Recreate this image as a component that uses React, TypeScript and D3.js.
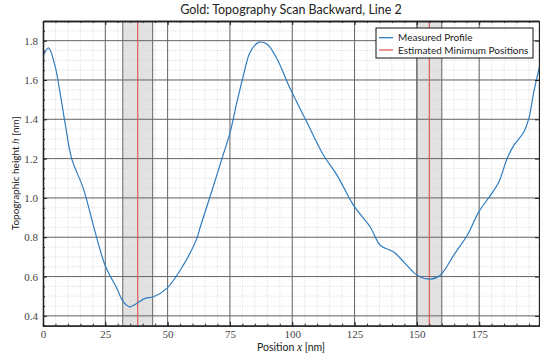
import { useEffect, useRef } from "react";
import * as d3 from "d3";

const width = 540;
const height = 358;
const plot = { left: 43, right: 539, top: 21, bottom: 325.7 };

// measured profile
const positions = [
  0, 2.2, 4.8, 6.8, 8.8, 11.5, 16.2, 20.9, 24.9, 29.6, 32.2, 34.7, 37.6, 41.0,
  44.3, 49.7, 56.3, 61.7, 63.1, 67.1, 71.8, 75.1, 77.8, 80.4, 83.1, 86.5, 89.8,
  93.9, 99.2, 105.9, 112.6, 118.0, 124.6, 131.3, 135.3, 140.7, 144.7, 150.1,
  155.4, 159.4, 164.8, 170.2, 174.8, 179.5, 182.9, 186.2, 188.9, 192.9, 194.9,
  196.9, 199.6,
];
const heights = [
  1.72, 1.763, 1.673, 1.538, 1.385, 1.2, 1.047, 0.827, 0.658, 0.54, 0.472,
  0.446, 0.463, 0.489, 0.497, 0.54, 0.658, 0.793, 0.852, 1.01, 1.2, 1.335,
  1.487, 1.622, 1.741, 1.791, 1.783, 1.707, 1.555, 1.385, 1.216, 1.115, 0.962,
  0.852, 0.759, 0.725, 0.675, 0.607, 0.587, 0.607, 0.709, 0.81, 0.928, 1.013,
  1.081, 1.2, 1.267, 1.335, 1.403, 1.538, 1.69,
];

const minPositions = [38, 155];
const minBands = [
  [32, 44],
  [150, 160],
];

const xTicks = [0, 25, 50, 75, 100, 125, 150, 175];
const yTicks = [0.4, 0.6, 0.8, 1.0, 1.2, 1.4, 1.6, 1.8];

const legendItems = ["Measured Profile", "Estimated Minimum Positions"];
const legendColors = ["#2f7dbf", "#df5a5a"];

const sans = "Lato, 'Open Sans', sans-serif";
const serif = "'Liberation Serif', 'DejaVu Serif', serif";

document.body.style.margin = "0";

export default function App() {
  const svgRef = useRef<SVGSVGElement | null>(null);

  useEffect(() => {
    if (!svgRef.current) return;
    const svg = d3.select(svgRef.current);

    const x = d3.scaleLinear().domain([0, 199]).range([plot.left, plot.right]);
    const y = d3.scaleLinear().domain([0.35, 1.9]).range([plot.bottom, plot.top]);

    const xMinor = d3.range(0, 200, 5);
    const yMinor = d3.range(0.35, 1.9001, 0.05);

    // bands
    svg
      .select(".bands")
      .selectAll("rect")
      .data(minBands)
      .join("rect")
      .attr("x", (d) => x(d[0]))
      .attr("width", (d) => x(d[1]) - x(d[0]))
      .attr("y", plot.top)
      .attr("height", plot.bottom - plot.top)
      .attr("fill", "#e2e2e2");

    // minor grid
    const minor = svg.select(".minor-grid");
    minor
      .selectAll("line.mx")
      .data(xMinor)
      .join("line")
      .attr("class", "mx")
      .attr("x1", (d) => x(d))
      .attr("x2", (d) => x(d))
      .attr("y1", plot.top)
      .attr("y2", plot.bottom);
    minor
      .selectAll("line.my")
      .data(yMinor)
      .join("line")
      .attr("class", "my")
      .attr("x1", plot.left)
      .attr("x2", plot.right)
      .attr("y1", (d) => y(d))
      .attr("y2", (d) => y(d));
    minor
      .selectAll("line")
      .attr("stroke", "#d4d4d4")
      .attr("stroke-width", 0.7)
      .attr("stroke-dasharray", "1.2 1.2");

    // major grid
    const major = svg.select(".major-grid");
    major
      .selectAll("line.gx")
      .data(xTicks.filter((d) => d > 0))
      .join("line")
      .attr("class", "gx")
      .attr("x1", (d) => x(d))
      .attr("x2", (d) => x(d))
      .attr("y1", plot.top)
      .attr("y2", plot.bottom);
    major
      .selectAll("line.bx")
      .data(minBands.flat())
      .join("line")
      .attr("class", "bx")
      .attr("x1", (d) => x(d))
      .attr("x2", (d) => x(d))
      .attr("y1", plot.top)
      .attr("y2", plot.bottom);
    major
      .selectAll("line.gy")
      .data(yTicks)
      .join("line")
      .attr("class", "gy")
      .attr("x1", plot.left)
      .attr("x2", plot.right)
      .attr("y1", (d) => y(d))
      .attr("y2", (d) => y(d));
    major
      .selectAll("line")
      .attr("stroke", "#666")
      .attr("stroke-width", 1);

    // minimum markers
    svg
      .select(".minima")
      .selectAll("line")
      .data(minPositions)
      .join("line")
      .attr("x1", (d) => x(d))
      .attr("x2", (d) => x(d))
      .attr("y1", plot.top)
      .attr("y2", plot.bottom)
      .attr("stroke", legendColors[1])
      .attr("stroke-width", 1.2);

    // profile
    const line = d3
      .line<number>()
      .x((_, i) => x(positions[i]))
      .y((d) => y(d))
      .curve(d3.curveCatmullRom.alpha(0.5));
    svg
      .select(".profile")
      .attr("d", line(heights))
      .attr("fill", "none")
      .attr("stroke", legendColors[0])
      .attr("stroke-width", 1.2);

    // axes, ticks pointing inward
    const styleAxis = (g: d3.Selection<SVGGElement, unknown, null, undefined>) => {
      g.attr("font-family", null);
      g.select(".domain").attr("stroke", "#222").attr("stroke-width", 1.3);
      g.selectAll(".tick line").attr("stroke", "#222");
      g.selectAll("text")
        .attr("font-family", serif)
        .attr("font-size", 11)
        .attr("fill", "#444");
    };

    svg
      .select<SVGGElement>(".x-minor")
      .attr("transform", `translate(0,${plot.bottom})`)
      .call(d3.axisBottom(x).tickValues(xMinor).tickSize(-2).tickFormat(() => ""))
      .call(styleAxis);
    svg
      .select<SVGGElement>(".x-axis")
      .attr("transform", `translate(0,${plot.bottom})`)
      .call(d3.axisBottom(x).tickValues(xTicks).tickSize(-4).tickSizeOuter(0).tickPadding(5))
      .call(styleAxis);
    svg
      .select<SVGGElement>(".x-top")
      .attr("transform", `translate(0,${plot.top})`)
      .call(d3.axisTop(x).tickValues(xMinor).tickSize(-2).tickSizeOuter(0).tickFormat(() => ""))
      .call(styleAxis);
    svg
      .select<SVGGElement>(".x-top-major")
      .attr("transform", `translate(0,${plot.top})`)
      .call(d3.axisTop(x).tickValues(xTicks).tickSize(-4).tickSizeOuter(0).tickFormat(() => ""))
      .call(styleAxis);
    svg
      .select<SVGGElement>(".y-minor")
      .attr("transform", `translate(${plot.left},0)`)
      .call(d3.axisLeft(y).tickValues(yMinor).tickSize(-2).tickSizeOuter(0).tickFormat(() => ""))
      .call(styleAxis);
    svg
      .select<SVGGElement>(".y-axis")
      .attr("transform", `translate(${plot.left},0)`)
      .call(
        d3
          .axisLeft(y)
          .tickValues(yTicks)
          .tickSize(-4)
          .tickSizeOuter(0)
          .tickPadding(5)
          .tickFormat(d3.format(".1f")),
      )
      .call(styleAxis);
    svg
      .select<SVGGElement>(".y-right")
      .attr("transform", `translate(${plot.right},0)`)
      .call(d3.axisRight(y).tickValues(yTicks).tickSize(-4).tickSizeOuter(0).tickFormat(() => ""))
      .call(styleAxis);
  }, []);

  const legendX = 376;
  const legendY = 28;

  return (
    <svg ref={svgRef} width={width} height={height} style={{ display: "block", background: "#fff" }}>
      <g className="bands" />
      <g className="minor-grid" />
      <g className="major-grid" />
      <g className="minima" />
      <defs>
        <clipPath id="plot-clip">
          <rect x={plot.left} y={plot.top} width={plot.right - plot.left} height={plot.bottom - plot.top} />
        </clipPath>
      </defs>
      <path className="profile" clipPath="url(#plot-clip)" />
      <g className="x-minor" />
      <g className="x-axis" />
      <g className="x-top" />
      <g className="x-top-major" />
      <g className="y-minor" />
      <g className="y-axis" />
      <g className="y-right" />

      <text x={(plot.left + plot.right) / 2} y={14} textAnchor="middle" fontFamily={sans} fontSize={12.5} fill="#222">
        Gold: Topography Scan Backward, Line 2
      </text>
      <text x={(plot.left + plot.right) / 2} y={351} textAnchor="middle" fontFamily={sans} fontSize={10.5} fill="#222">
        Position <tspan fontFamily={serif} fontStyle="italic" fontSize={11.5}>x</tspan> [nm]
      </text>
      <text
        transform={`translate(19,${(plot.top + plot.bottom) / 2}) rotate(-90)`}
        textAnchor="middle"
        fontFamily={sans}
        fontSize={10}
        fill="#222"
      >
        Topographic height <tspan fontFamily={serif} fontStyle="italic" fontSize={11}>h</tspan> [nm]
      </text>

      <g>
        <rect x={legendX} y={legendY} width={157} height={30} fill="#fff" stroke="#111" strokeWidth={1} />
        {legendItems.map((label, i) => (
          <g key={label}>
            <line
              x1={legendX + 3}
              x2={legendX + 17}
              y1={legendY + 9.7 + i * 12.3}
              y2={legendY + 9.7 + i * 12.3}
              stroke={legendColors[i]}
              strokeWidth={1.3}
            />
            <text x={legendX + 22} y={legendY + 13.3 + i * 12.3} fontFamily={sans} fontSize={10} fill="#222">
              {label}
            </text>
          </g>
        ))}
      </g>
    </svg>
  );
}
